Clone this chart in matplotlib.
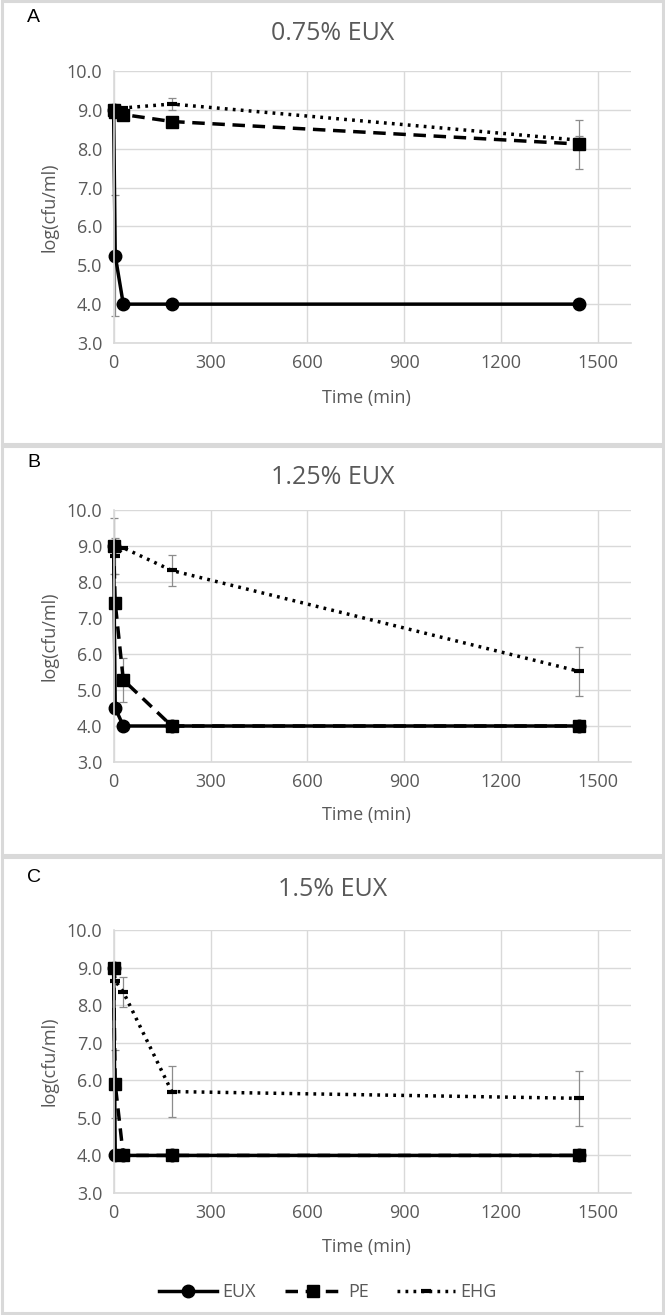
import matplotlib
matplotlib.use("Agg")
import matplotlib.pyplot as plt
from matplotlib.patches import Rectangle
from matplotlib.lines import Line2D

plt.rcParams["font.family"] = ["Open Sans", "DejaVu Sans"]

time = [0, 5, 30, 180, 1440]

# panel A - 0.75% EUX
eux_a = [9.0, 5.25, 4.0, 4.0, 4.0]
eux_a_err = [0, 1.55, 0, 0, 0]
pe_a = [9.0, 8.95, 8.88, 8.7, 8.12]
pe_a_err = [0.15, 0, 0, 0, 0.63]
ehg_a = [9.0, 9.0, 9.05, 9.15, 8.22]
ehg_a_err = [0, 0, 0, 0.16, 0.1]

# panel B - 1.25% EUX
eux_b = [9.0, 4.5, 4.0, 4.0, 4.0]
eux_b_err = [0, 0, 0, 0, 0]
pe_b = [9.0, 7.42, 5.28, 4.0, 4.0]
pe_b_err = [0, 0, 0.62, 0, 0]
ehg_b = [9.0, 8.72, 8.95, 8.32, 5.52]
ehg_b_err = [0.78, 0.5, 0, 0.42, 0.68]

# panel C - 1.5% EUX
eux_c = [9.0, 4.0, 4.0, 4.0, 4.0]
eux_c_err = [0, 0, 0, 0, 0]
pe_c = [9.0, 5.9, 4.0, 4.0, 4.0]
pe_c_err = [0, 0.9, 0, 0, 0]
ehg_c = [9.0, 8.65, 8.35, 5.7, 5.52]
ehg_c_err = [0, 0, 0.4, 0.67, 0.74]

titles = ["0.75% EUX", "1.25% EUX", "1.5% EUX"]
letters = ["A", "B", "C"]
xticks = [0, 300, 600, 900, 1200, 1500]
yticks = [3, 4, 5, 6, 7, 8, 9, 10]

W, H = 665, 1315
fig = plt.figure(figsize=(W / 100, H / 100), dpi=100)

gray_txt = "#595959"
grid_c = "#d9d9d9"
err_c = "#8c8c8c"

# panel frames (top, bottom in px)
frames = [(1, 444), (446, 855), (857, 1313)]
# axes position in px: top (y=10), bottom (y=3)
axes_px = [(71, 343), (510, 762), (930, 1193)]
title_px = [33, 477, 890]
letter_px = [18, 463, 878]
xlabel_px = [398, 815, 1247]

for top, bot in frames:
    fig.patches.append(Rectangle((1.5 / W, 1 - bot / H), (W - 4) / W, (bot - top) / H,
                                 transform=fig.transFigure, fill=False,
                                 edgecolor=grid_c, linewidth=2.2))

data = [
    (eux_a, eux_a_err, pe_a, pe_a_err, ehg_a, ehg_a_err),
    (eux_b, eux_b_err, pe_b, pe_b_err, ehg_b, ehg_b_err),
    (eux_c, eux_c_err, pe_c, pe_c_err, ehg_c, ehg_c_err),
]

left = 113.6 / W
width = (630.6 - 113.6) / W
fs = 13
lw = 2.5
ms = 9
for i in range(3):
    t, b = axes_px[i]
    ax = fig.add_axes([left, 1 - b / H, width, (b - t) / H])
    eux, eux_err, pe, pe_err, ehg, ehg_err = data[i]

    for vals, errs in [(eux, eux_err), (pe, pe_err), (ehg, ehg_err)]:
        ax.errorbar(time, vals, yerr=errs, fmt="none", ecolor=err_c, elinewidth=0.9,
                    capsize=3, capthick=0.9, clip_on=False)

    ax.plot(time, ehg, color="black", linestyle=(0, (0.8, 1.5)), linewidth=lw,
            marker="_", markersize=7, markeredgewidth=3, clip_on=False)
    ax.plot(time, pe, color="black", linestyle=(0, (3.6, 2.2)), linewidth=lw,
            marker="s", markersize=ms, clip_on=False)
    ax.plot(time, eux, color="black", linestyle="-", linewidth=lw,
            marker="o", markersize=ms, clip_on=False)

    ax.set_xlim(0, 1600)
    ax.set_ylim(3, 10)
    ax.set_xticks(xticks)
    ax.set_yticks(yticks)
    ax.set_yticklabels(["%.1f" % v for v in yticks])
    ax.grid(True, color=grid_c, linewidth=1)
    ax.set_axisbelow(True)
    for s in ["top", "right"]:
        ax.spines[s].set_visible(False)
    for s in ["left", "bottom"]:
        ax.spines[s].set_color(grid_c)
        ax.spines[s].set_linewidth(1.2)
    ax.tick_params(length=0, labelsize=fs, labelcolor=gray_txt, pad=8)
    ax.set_ylabel("log(cfu/ml)", fontsize=fs, color=gray_txt, labelpad=6)

    fig.text(333 / W, 1 - title_px[i] / H, titles[i], ha="center", va="center",
             fontsize=18, color=gray_txt)
    fig.text(27 / W, 1 - letter_px[i] / H, letters[i], ha="left", va="center",
             fontsize=14, color="black", family=["Liberation Sans", "DejaVu Sans"])
    fig.text(366 / W, 1 - xlabel_px[i] / H, "Time (min)", ha="center", va="center",
             fontsize=fs, color=gray_txt)

handles = [
    Line2D([], [], color="black", linestyle="-", linewidth=lw, marker="o", markersize=ms),
    Line2D([], [], color="black", linestyle=(0, (3.6, 2.2)), linewidth=lw, marker="s", markersize=ms),
    Line2D([], [], color="black", linestyle=(0, (0.8, 1.5)), linewidth=lw, marker="_", markersize=7, markeredgewidth=3),
]
leg = fig.legend(handles, ["EUX", "PE", "EHG"], loc="center", ncol=3, frameon=False,
                 bbox_to_anchor=(328 / W, 1 - 1292 / H), fontsize=fs,
                 handlelength=3.2, columnspacing=1.6, handletextpad=0.3)
for txt in leg.get_texts():
    txt.set_color(gray_txt)

fig.savefig("out.png", dpi=100)
